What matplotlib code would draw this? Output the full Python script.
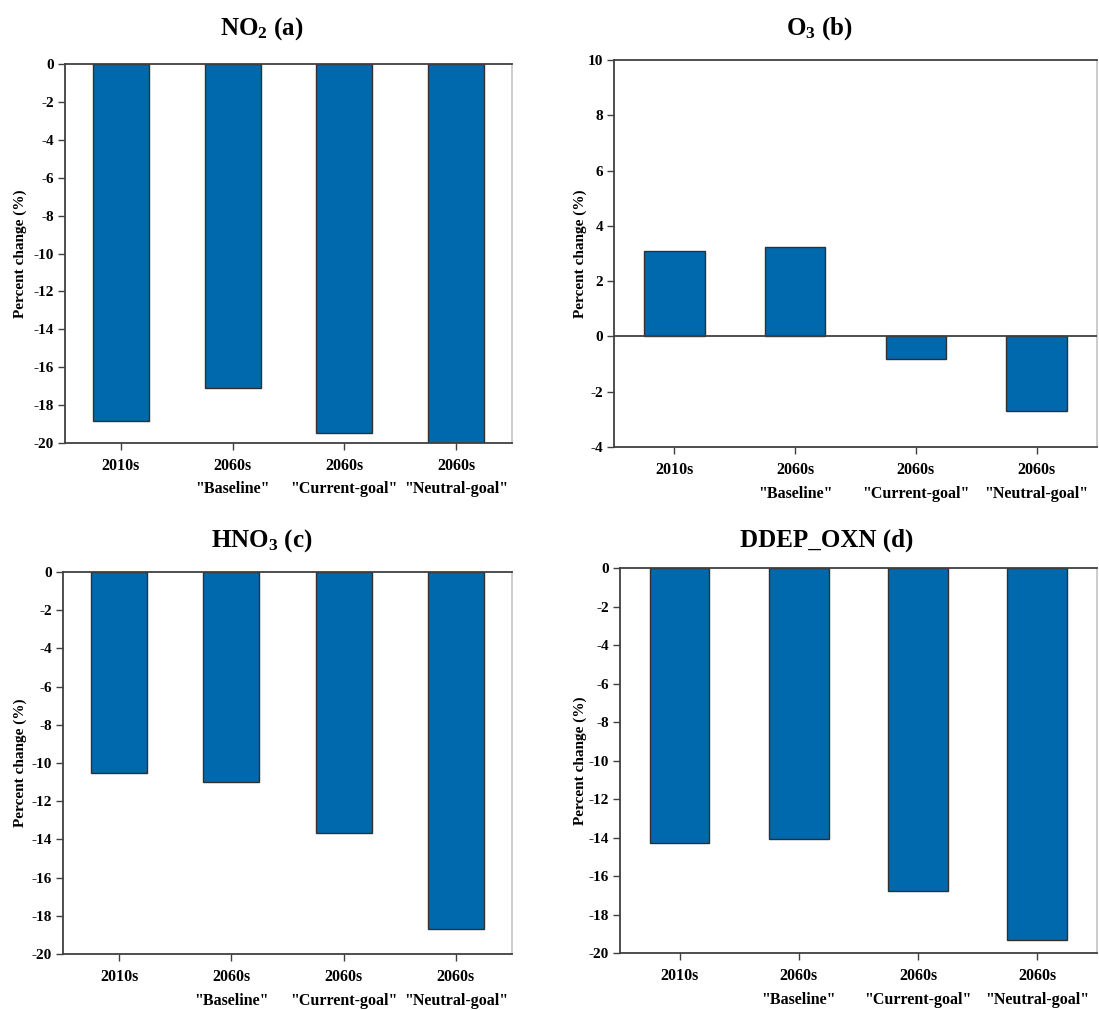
import numpy as np
import matplotlib
matplotlib.use("Agg")
import matplotlib.pyplot as plt

plt.rcParams['font.family'] = ['Liberation Serif', 'DejaVu Serif']
plt.rcParams['font.weight'] = 'bold'
plt.rcParams['mathtext.fontset'] = 'custom'
plt.rcParams['mathtext.rm'] = 'Liberation Serif:bold'
plt.rcParams['mathtext.bf'] = 'Liberation Serif:bold'
plt.rcParams['mathtext.default'] = 'bf'
plt.rcParams['axes.unicode_minus'] = False

## Données
categories = ['2010s', '2060s\n"Baseline"', '2060s\n"Current-goal"', '2060s\n"Neutral-goal"']
no2 = [-18.85, -17.1, -19.45, -20.0]
o3 = [3.1, 3.25, -0.82, -2.7]
hno3 = [-10.5, -11.0, -13.65, -18.7]
ddep_oxn = [-14.3, -14.1, -16.8, -19.3]

titles = ['NO$_2$ (a)', 'O$_3$ (b)', 'HNO$_3$ (c)', 'DDEP_OXN (d)']
ylims = [(-20, 0), (-4, 10), (-20, 0), (-20, 0)]
yticks = [np.arange(-20, 1, 2), np.arange(-4, 11, 2), np.arange(-20, 1, 2), np.arange(-20, 1, 2)]

# positions des axes [left, bottom, width, height] et des titres
rects = [[0.059, 0.5614, 0.407, 0.3752],
         [0.5587, 0.5574, 0.4395, 0.3832],
         [0.0573, 0.0554, 0.4086, 0.3783],
         [0.5641, 0.0564, 0.434, 0.3812]]
title_pos = [(0.238, 0.972), (0.746, 0.972), (0.238, 0.465), (0.752, 0.465)]
ylabel_x = [20, 580, 20, 580]  # en pixels

bar_color = '#0068ac'
dark = '#404040'

fig = plt.figure(figsize=(10.99, 10.10), dpi=100)

series = [no2, o3, hno3, ddep_oxn]
x = np.arange(len(categories))
for k in range(4):
    ax = fig.add_axes(rects[k])
    ax.bar(x, series[k], width=0.5, color=bar_color, edgecolor='#303030', linewidth=1.0, zorder=2)
    ax.set_xlim(-0.5, 3.5)
    ax.set_ylim(*ylims[k])
    ax.set_yticks(yticks[k])
    ax.set_xticks(x)
    ax.set_xticklabels(categories, fontsize=11.5, fontweight='bold', linespacing=1.6)
    for lab in ax.get_yticklabels():
        lab.set_fontsize(11)
        lab.set_fontweight('bold')
    ax.tick_params(axis='both', direction='out', length=5, width=1.0, color=dark)
    ax.tick_params(axis='x', pad=6)
    ax.tick_params(axis='y', pad=3)
    for s in ['left', 'bottom', 'top']:
        ax.spines[s].set_color(dark)
        ax.spines[s].set_linewidth(1.3)
    ax.spines['right'].set_color('#c8c8c8')
    ax.spines['right'].set_linewidth(1.3)
    if ylims[k][0] < 0 < ylims[k][1]:
        ax.axhline(0, color=dark, linewidth=1.3, zorder=3)
    cy = rects[k][1] + rects[k][3] / 2
    fig.text(ylabel_x[k] / 1099, cy, 'Percent change (%)', fontsize=11, fontweight='bold',
             rotation=90, ha='center', va='center')
    fig.text(title_pos[k][0], title_pos[k][1], titles[k], fontsize=18, fontweight='bold',
             ha='center', va='center')

fig.savefig('out.png', dpi=100)
